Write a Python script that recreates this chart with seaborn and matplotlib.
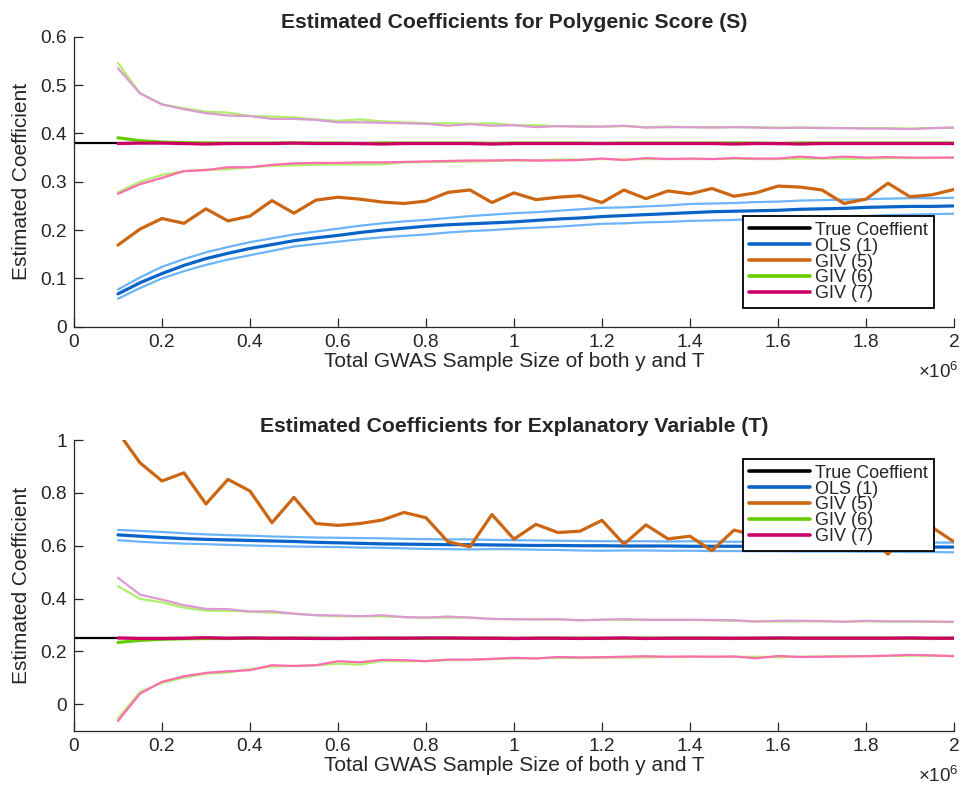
import numpy as np
import pandas as pd
import matplotlib
matplotlib.use("Agg")
import matplotlib.pyplot as plt
from matplotlib.lines import Line2D
from matplotlib.ticker import FuncFormatter
import seaborn as sns

# ---------------- data ----------------
sample_size = [100000, 150000, 200000, 250000, 300000, 350000, 400000, 450000, 500000,
               550000, 600000, 650000, 700000, 750000, 800000, 850000, 900000, 950000,
               1000000, 1050000, 1100000, 1150000, 1200000, 1250000, 1300000, 1350000,
               1400000, 1450000, 1500000, 1550000, 1600000, 1650000, 1700000, 1750000,
               1800000, 1850000, 1900000, 1950000, 2000000]

true_S = 0.38
true_T = 0.25

# ---- Polygenic score (S) ----
S_ols = [.068, .091, .110, .127, .141, .152, .162, .170, .178, .184, .189, .195, .200, .204,
         .208, .211, .213, .215, .217, .220, .223, .225, .228, .230, .232, .234, .236, .238,
         .239, .240, .241, .243, .244, .245, .247, .248, .249, .249, .250]
S_ols_hi = [.077, .102, .124, .140, .154, .165, .175, .183, .191, .197, .203, .209, .214, .218,
            .221, .225, .229, .232, .235, .237, .240, .243, .246, .247, .249, .251, .254, .255,
            .256, .258, .259, .261, .262, .263, .264, .265, .266, .266, .267]
S_ols_lo = [.058, .080, .100, .115, .128, .139, .148, .157, .166, .171, .176, .181, .185, .188,
            .191, .195, .198, .200, .203, .205, .207, .210, .213, .214, .216, .217, .219, .220,
            .221, .223, .224, .225, .226, .228, .229, .231, .232, .233, .234]
S_giv5 = [.169, .202, .224, .214, .244, .219, .229, .261, .235, .262, .268, .264, .258, .255,
          .260, .278, .283, .257, .277, .263, .268, .271, .257, .283, .265, .281, .275, .286,
          .270, .277, .291, .289, .283, .255, .264, .297, .269, .273, .284]
S_giv6 = [.391, .385, .382, .381, .380, .380, .380, .380, .380, .380, .380, .379, .380, .380,
          .380, .380, .380, .379, .380, .380, .380, .380, .379, .380, .380, .380, .380, .380,
          .380, .380, .379, .380, .380, .380, .380, .380, .380, .380, .380]
S_giv6_hi = [.546, .483, .460, .452, .445, .443, .436, .435, .433, .429, .426, .429, .425, .423,
             .421, .421, .420, .421, .417, .417, .415, .415, .414, .415, .413, .414, .413, .413,
             .413, .413, .412, .412, .412, .411, .411, .411, .410, .411, .412]
S_giv6_lo = [.278, .300, .314, .322, .325, .326, .330, .333, .334, .335, .336, .336, .336, .340,
             .341, .341, .342, .343, .344, .344, .346, .346, .347, .346, .347, .347, .347, .347,
             .348, .347, .347, .348, .348, .348, .348, .349, .349, .349, .350]
S_giv7 = [.379, .380, .380, .379, .378, .379, .379, .379, .380, .379, .379, .379, .378, .379,
          .379, .379, .379, .378, .379, .379, .379, .379, .379, .379, .379, .379, .379, .379,
          .378, .379, .379, .378, .379, .379, .379, .379, .379, .379, .379]
S_giv7_hi = [.535, .483, .460, .450, .442, .437, .436, .430, .430, .428, .423, .423, .422, .421,
             .420, .416, .419, .416, .417, .413, .415, .414, .414, .416, .412, .413, .413, .412,
             .413, .412, .411, .412, .411, .411, .410, .410, .409, .411, .412]
S_giv7_lo = [.275, .295, .308, .322, .324, .330, .330, .335, .338, .339, .339, .340, .340, .341,
             .342, .343, .344, .344, .345, .344, .344, .345, .348, .345, .349, .347, .348, .347,
             .349, .348, .348, .352, .349, .352, .350, .351, .350, .350, .350]

# ---- Explanatory variable (T) ----
T_ols = [.641, .636, .631, .627, .624, .622, .620, .618, .616, .613, .611, .609, .607, .606,
         .605, .604, .604, .603, .602, .601, .601, .600, .600, .599, .599, .599, .598, .598,
         .598, .597, .597, .597, .597, .596, .596, .596, .596, .595, .595]
T_ols_hi = [.660, .656, .652, .647, .643, .640, .638, .635, .633, .631, .630, .629, .628, .626,
            .625, .624, .624, .622, .621, .620, .619, .618, .617, .617, .617, .616, .617, .616,
            .615, .615, .614, .614, .614, .613, .613, .613, .612, .612, .612]
T_ols_lo = [.621, .615, .611, .608, .606, .603, .601, .599, .597, .596, .595, .593, .592, .590,
            .588, .587, .586, .587, .587, .585, .584, .582, .581, .582, .582, .581, .581, .580,
            .580, .579, .579, .578, .578, .578, .577, .577, .576, .576, .575]
T_giv5 = [1.030, .914, .845, .876, .758, .851, .807, .687, .783, .684, .677, .684, .697, .726,
          .706, .615, .596, .718, .625, .681, .650, .655, .696, .606, .679, .626, .636, .581,
          .659, .640, .662, .625, .650, .632, .645, .568, .660, .670, .615]
T_giv6 = [.234, .242, .246, .248, .249, .249, .250, .249, .250, .250, .249, .249, .250, .250,
          .250, .250, .250, .250, .249, .250, .250, .250, .249, .250, .250, .250, .250, .250,
          .249, .250, .250, .250, .250, .250, .250, .250, .250, .249, .250]
T_giv6_hi = [.447, .399, .386, .366, .354, .354, .351, .347, .343, .337, .333, .333, .333, .330,
             .328, .328, .328, .323, .322, .322, .321, .318, .320, .320, .319, .319, .319, .318,
             .316, .314, .313, .314, .314, .313, .314, .313, .313, .312, .311]
T_giv6_lo = [-.054, .047, .081, .101, .116, .120, .134, .143, .145, .147, .154, .150, .164, .163,
             .164, .167, .168, .171, .173, .175, .176, .176, .177, .177, .178, .179, .179, .180,
             .179, .180, .178, .180, .181, .182, .182, .183, .184, .184, .183]
T_giv7 = [.251, .249, .249, .250, .252, .250, .251, .250, .250, .249, .249, .250, .250, .250,
          .251, .251, .250, .250, .249, .250, .250, .249, .250, .251, .249, .250, .250, .250,
          .250, .250, .251, .250, .250, .250, .250, .250, .251, .250, .250]
T_giv7_hi = [.479, .415, .396, .375, .361, .360, .351, .352, .343, .337, .336, .333, .337, .330,
             .328, .332, .328, .323, .322, .321, .322, .318, .320, .322, .320, .320, .320, .319,
             .318, .313, .316, .316, .315, .312, .316, .314, .314, .313, .312]
T_giv7_lo = [-.063, .040, .085, .106, .119, .125, .129, .148, .145, .148, .163, .159, .168, .167,
             .163, .169, .169, .172, .176, .173, .179, .177, .178, .180, .182, .180, .181, .180,
             .181, .174, .183, .179, .180, .181, .182, .184, .187, .185, .182]

legend_labels = ["True Coeffient", "OLS (1)", "GIV (5)", "GIV (6)", "GIV (7)"]

# ---------------- style ----------------
sns.set_theme(style="ticks")
plt.rcParams["font.family"] = ["Liberation Sans", "DejaVu Sans"]
plt.rcParams["mathtext.fontset"] = "custom"
plt.rcParams["mathtext.rm"] = "Liberation Sans"
plt.rcParams["mathtext.it"] = "Liberation Sans:italic"

C_TRUE = "#000000"
C_OLS, C_OLS_B = "#0a64c8", "#6cb4fa"
C_G5 = "#cc6612"
C_G6, C_G6_B = "#66cc00", "#aef06a"
C_G7, C_G7_HI, C_G7_LO = "#cc0066", "#dc9ad2", "#ff6cb0"
AX_COL = "#262626"

fig = plt.figure(figsize=(9.63, 7.87), dpi=100)
ax1 = fig.add_axes([0.0768, 0.5848, 0.9138, 0.3685])
ax2 = fig.add_axes([0.0768, 0.0715, 0.9138, 0.3694])

LW_C, LW_B = 2.3, 1.6


def draw(ax, true_v, ols, ols_hi, ols_lo, g5, g6, g6_hi, g6_lo, g7, g7_hi, g7_lo):
    x = sample_size
    ax.axhline(true_v, color=C_TRUE, lw=1.6, zorder=1)
    for series, col, lw in [
        (ols_hi, C_OLS_B, LW_B), (ols_lo, C_OLS_B, LW_B), (ols, C_OLS, LW_C),
        (g5, C_G5, LW_C),
        (g6_hi, C_G6_B, LW_B), (g6_lo, C_G6_B, LW_B), (g6, C_G6, LW_C),
        (g7_hi, C_G7_HI, LW_B), (g7_lo, C_G7_LO, LW_B), (g7, C_G7, LW_C),
    ]:
        sns.lineplot(x=x, y=series, ax=ax, color=col, linewidth=lw, zorder=2)


draw(ax1, true_S, S_ols, S_ols_hi, S_ols_lo, S_giv5, S_giv6, S_giv6_hi, S_giv6_lo,
     S_giv7, S_giv7_hi, S_giv7_lo)
draw(ax2, true_T, T_ols, T_ols_hi, T_ols_lo, T_giv5, T_giv6, T_giv6_hi, T_giv6_lo,
     T_giv7, T_giv7_hi, T_giv7_lo)

titles = ["Estimated Coefficients for Polygenic Score (S)",
          "Estimated Coefficients for Explanatory Variable (T)"]
ylims = [(0, 0.6), (-0.1, 1.0)]
yticks = [[0, 0.1, 0.2, 0.3, 0.4, 0.5, 0.6], [0, 0.2, 0.4, 0.6, 0.8, 1.0]]

handles = [Line2D([], [], color=c, lw=2.6) for c in [C_TRUE, C_OLS, C_G5, C_G6, C_G7]]

for ax, title, yl, yt in zip([ax1, ax2], titles, ylims, yticks):
    ax.set_xlim(0, 2000000)
    ax.set_ylim(*yl)
    ax.set_yticks(yt)
    ax.set_yticklabels([f"{v:g}" for v in yt])
    ax.set_xticks([0, 200000, 400000, 600000, 800000, 1000000, 1200000, 1400000,
                   1600000, 1800000, 2000000])
    ax.xaxis.set_major_formatter(FuncFormatter(lambda v, p: f"{v/1e6:g}"))
    ax.set_title(title, fontsize=15.2, fontweight="bold", pad=6)
    ax.set_xlabel("Total GWAS Sample Size of both y and T", fontsize=15, color=AX_COL,
                  labelpad=1)
    ax.set_ylabel("Estimated Coefficient", fontsize=15, color=AX_COL, labelpad=7)
    ax.tick_params(direction="in", length=6.5, width=0.9, colors=AX_COL, labelsize=13.8,
                   pad=5)
    sns.despine(ax=ax)
    for s in ["left", "bottom"]:
        ax.spines[s].set_color(AX_COL)
        ax.spines[s].set_linewidth(0.9)
    ax.text(1.005, -0.155, r"$\times\mathregular{10^6}$", transform=ax.transAxes,
            ha="right", va="center", fontsize=13.5, color=AX_COL)

leg_kw = dict(fontsize=13, handlelength=3.4, handletextpad=0.3, labelspacing=-0.06,
              borderpad=0.3, borderaxespad=0, frameon=True, fancybox=False,
              edgecolor="#000000", framealpha=1)
l1 = ax1.legend(handles, legend_labels, loc="lower right", bbox_to_anchor=(0.977, 0.0655),
                **leg_kw)
l2 = ax2.legend(handles, legend_labels, loc="upper right", bbox_to_anchor=(0.977, 0.934),
                **leg_kw)
for lg in (l1, l2):
    lg.get_frame().set_linewidth(1.3)
    lg.set_zorder(5)

fig.savefig("out.png", dpi=100)
